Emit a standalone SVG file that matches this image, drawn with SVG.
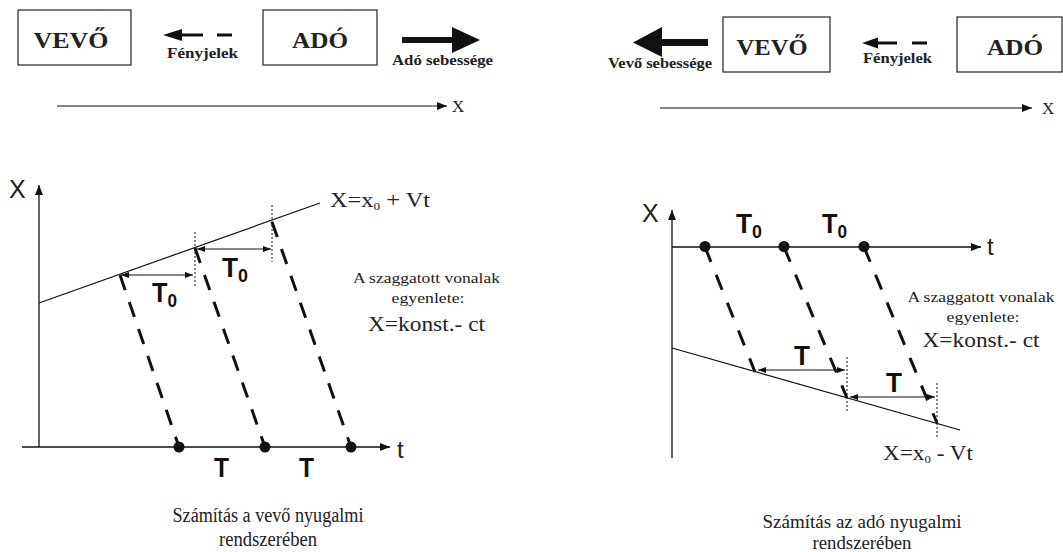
<svg xmlns="http://www.w3.org/2000/svg" width="1063" height="552" viewBox="0 0 1063 552">
<style>
.box{fill:#fff;stroke:#333;stroke-width:1.3}
.tb{font-family:"Liberation Serif",serif;font-weight:bold;fill:#222}
.tr{font-family:"Liberation Serif",serif;fill:#222}
.ss{font-family:"Liberation Sans",sans-serif;fill:#222}
.sb{font-family:"Liberation Sans Narrow","Liberation Sans",sans-serif;font-weight:bold;fill:#111}
.ln{stroke:#111;stroke-width:1.2;fill:none}
.ax{stroke:#111;stroke-width:1.3;fill:none}
.dl{stroke:#111;stroke-width:3;stroke-dasharray:16 12.5;fill:none}
.dr{stroke:#111;stroke-width:3;stroke-dasharray:16 14;fill:none}
.vd{stroke:#111;stroke-width:1;stroke-dasharray:2 2;fill:none}
.ta{stroke:#111;stroke-width:1.1;fill:none}
</style>
<defs>
<marker id="ah" viewBox="0 0 10 8" refX="10" refY="4" markerWidth="10" markerHeight="8" markerUnits="userSpaceOnUse" orient="auto-start-reverse"><path d="M0,0 L10,4 L0,8 z" fill="#111"/></marker>
<marker id="sh" viewBox="0 0 8 6" refX="8" refY="3" markerWidth="8" markerHeight="6" markerUnits="userSpaceOnUse" orient="auto-start-reverse"><path d="M0,0 L8,3 L0,6 z" fill="#111"/></marker>
</defs>

<!-- top left scene -->
<g id="vevo1"><rect class="box" x="18" y="10" width="113" height="55"/><text class="tb" x="71" y="48" font-size="23" text-anchor="middle" textLength="75" lengthAdjust="spacingAndGlyphs">VEVŐ</text></g>
<g id="ado1"><rect class="box" x="263" y="10" width="114" height="55"/><text class="tb" x="320" y="48" font-size="23" text-anchor="middle" textLength="56" lengthAdjust="spacingAndGlyphs">ADÓ</text></g>
<g id="feny1">
<path d="M163,35 L182,29 L182,41 z" fill="#111"/>
<line x1="182" y1="35" x2="203" y2="35" stroke="#111" stroke-width="3"/>
<line x1="217" y1="35" x2="232" y2="35" stroke="#111" stroke-width="3"/>
<text class="tb" x="167" y="58" font-size="14" textLength="71" lengthAdjust="spacingAndGlyphs">Fényjelek</text>
</g>
<g id="adoseb">
<rect x="402" y="37" width="51" height="6" fill="#111"/>
<path d="M452,27 L480,40 L452,53 z" fill="#111"/>
<text class="tb" x="392" y="65" font-size="14" textLength="101" lengthAdjust="spacingAndGlyphs">Adó sebessége</text>
</g>
<g id="xaxis1"><line class="ln" x1="57" y1="106" x2="447" y2="106" marker-end="url(#ah)"/><text class="tr" x="452" y="112" font-size="17">X</text></g>

<!-- top right scene -->
<g id="vevoseb">
<rect x="660" y="39" width="48" height="7" fill="#111"/>
<path d="M662,27 L633,42.5 L662,57 z" fill="#111"/>
<text class="tb" x="608" y="68" font-size="14" textLength="104" lengthAdjust="spacingAndGlyphs">Vevő sebessége</text>
</g>
<g id="vevo2"><rect class="box" x="723" y="17" width="107" height="55"/><text class="tb" x="772" y="55" font-size="23" text-anchor="middle" textLength="71" lengthAdjust="spacingAndGlyphs">VEVŐ</text></g>
<g id="feny2">
<path d="M862,43 L878,37.5 L878,48.5 z" fill="#111"/>
<line x1="878" y1="43" x2="897" y2="43" stroke="#111" stroke-width="3"/>
<line x1="912" y1="43" x2="927" y2="43" stroke="#111" stroke-width="3"/>
<text class="tb" x="863" y="63" font-size="14" textLength="69" lengthAdjust="spacingAndGlyphs">Fényjelek</text>
</g>
<g id="ado2"><rect class="box" x="957" y="17" width="105" height="55"/><text class="tb" x="1015" y="55" font-size="23" text-anchor="middle" textLength="56" lengthAdjust="spacingAndGlyphs">ADÓ</text></g>
<g id="xaxis2"><line class="ln" x1="660" y1="108" x2="1032" y2="108" marker-end="url(#ah)"/><text class="tr" x="1042" y="114" font-size="17">X</text></g>

<!-- bottom left graph -->
<g id="graph1">
<line class="ax" x1="39" y1="447" x2="39" y2="185" marker-end="url(#ah)"/>
<line class="ax" x1="22" y1="447" x2="390" y2="447" marker-end="url(#ah)"/>
<text class="ss" x="9" y="198" font-size="25">X</text>
<text class="ss" x="397" y="458" font-size="24">t</text>
<line class="ln" x1="39" y1="303" x2="320" y2="203"/>
<text class="tr" x="330" y="207" font-size="20" textLength="100" lengthAdjust="spacingAndGlyphs">X=x<tspan font-size="11" dy="3">0</tspan><tspan dy="-3"> + Vt</tspan></text>
<line class="vd" x1="195" y1="232" x2="195" y2="288"/>
<line class="vd" x1="272" y1="205" x2="272" y2="262"/>
<line class="ta" x1="121" y1="275" x2="193" y2="275" marker-start="url(#sh)" marker-end="url(#sh)"/>
<line class="ta" x1="197" y1="249" x2="271" y2="249" marker-start="url(#sh)" marker-end="url(#sh)"/>
<text class="sb" x="152" y="302" font-size="28" textLength="25" lengthAdjust="spacingAndGlyphs">T<tspan font-size="19" dy="5">0</tspan></text>
<text class="sb" x="222" y="277" font-size="28" textLength="26" lengthAdjust="spacingAndGlyphs">T<tspan font-size="19" dy="5">0</tspan></text>
<text class="sb" x="214" y="477" font-size="28" textLength="15" lengthAdjust="spacingAndGlyphs">T</text>
<text class="sb" x="299" y="477" font-size="28" textLength="15" lengthAdjust="spacingAndGlyphs">T</text>
<text class="tr" x="426.5" y="283" font-size="15" text-anchor="middle" textLength="147" lengthAdjust="spacingAndGlyphs">A szaggatott vonalak</text>
<text class="tr" x="428" y="303" font-size="15" text-anchor="middle" textLength="73" lengthAdjust="spacingAndGlyphs">egyenlete:</text>
<text class="tr" x="426.5" y="331" font-size="20" text-anchor="middle" textLength="117" lengthAdjust="spacingAndGlyphs">X=konst.- ct</text>
</g>
<g id="light1">
<line class="dl" x1="120" y1="275" x2="179" y2="447"/>
<line class="dl" x1="195" y1="248" x2="265" y2="447"/>
<line class="dl" x1="272" y1="222" x2="351" y2="447"/>
<circle cx="179" cy="447" r="5.5" fill="#111"/>
<circle cx="265" cy="447" r="5.5" fill="#111"/>
<circle cx="351" cy="447" r="5.5" fill="#111"/>
</g>

<!-- bottom right graph -->
<g id="graph2">
<line class="ax" x1="672" y1="458" x2="672" y2="210" marker-end="url(#ah)"/>
<line class="ax" x1="672" y1="247" x2="981" y2="247" marker-end="url(#ah)"/>
<text class="ss" x="642" y="222" font-size="25">X</text>
<text class="ss" x="987" y="255" font-size="24">t</text>
<line class="ln" x1="672" y1="348" x2="960" y2="430"/>
<text class="tr" x="883" y="460" font-size="20" textLength="90" lengthAdjust="spacingAndGlyphs">X=x<tspan font-size="11" dy="3">0</tspan><tspan dy="-3"> - Vt</tspan></text>
<line class="vd" x1="847" y1="357" x2="847" y2="413"/>
<line class="vd" x1="937" y1="383" x2="937" y2="438"/>
<line class="ta" x1="758" y1="370" x2="845" y2="370" marker-start="url(#sh)" marker-end="url(#sh)"/>
<line class="ta" x1="850" y1="397" x2="935" y2="397" marker-start="url(#sh)" marker-end="url(#sh)"/>
<text class="sb" x="736" y="233" font-size="28" textLength="26" lengthAdjust="spacingAndGlyphs">T<tspan font-size="19" dy="5">0</tspan></text>
<text class="sb" x="822" y="233" font-size="28" textLength="25" lengthAdjust="spacingAndGlyphs">T<tspan font-size="19" dy="5">0</tspan></text>
<text class="sb" x="794" y="365" font-size="28" textLength="16" lengthAdjust="spacingAndGlyphs">T</text>
<text class="sb" x="886" y="392" font-size="28" textLength="16" lengthAdjust="spacingAndGlyphs">T</text>
<text class="tr" x="981" y="302" font-size="15" text-anchor="middle" textLength="147" lengthAdjust="spacingAndGlyphs">A szaggatott vonalak</text>
<text class="tr" x="983" y="322" font-size="15" text-anchor="middle" textLength="73" lengthAdjust="spacingAndGlyphs">egyenlete:</text>
<text class="tr" x="981" y="347" font-size="20" text-anchor="middle" textLength="117" lengthAdjust="spacingAndGlyphs">X=konst.- ct</text>
</g>
<g id="light2">
<line class="dr" x1="705" y1="247" x2="755" y2="372"/>
<line class="dr" x1="784" y1="247" x2="847" y2="398"/>
<line class="dr" x1="864" y1="247" x2="937" y2="423"/>
<circle cx="705" cy="246.5" r="5.5" fill="#111"/>
<circle cx="784" cy="246.5" r="5.5" fill="#111"/>
<circle cx="864" cy="246.5" r="5.5" fill="#111"/>
</g>

<!-- captions -->
<g id="cap1">
<text class="tr" x="268" y="522" font-size="20" text-anchor="middle" textLength="191" lengthAdjust="spacingAndGlyphs">Számítás a vevő nyugalmi</text>
<text class="tr" x="268" y="546" font-size="20" text-anchor="middle" textLength="98" lengthAdjust="spacingAndGlyphs">rendszerében</text>
</g>
<g id="cap2">
<text class="tr" x="862" y="528" font-size="18" text-anchor="middle" textLength="199" lengthAdjust="spacingAndGlyphs">Számítás az adó nyugalmi</text>
<text class="tr" x="862" y="549" font-size="18" text-anchor="middle" textLength="99" lengthAdjust="spacingAndGlyphs">rendszerében</text>
</g>
</svg>
